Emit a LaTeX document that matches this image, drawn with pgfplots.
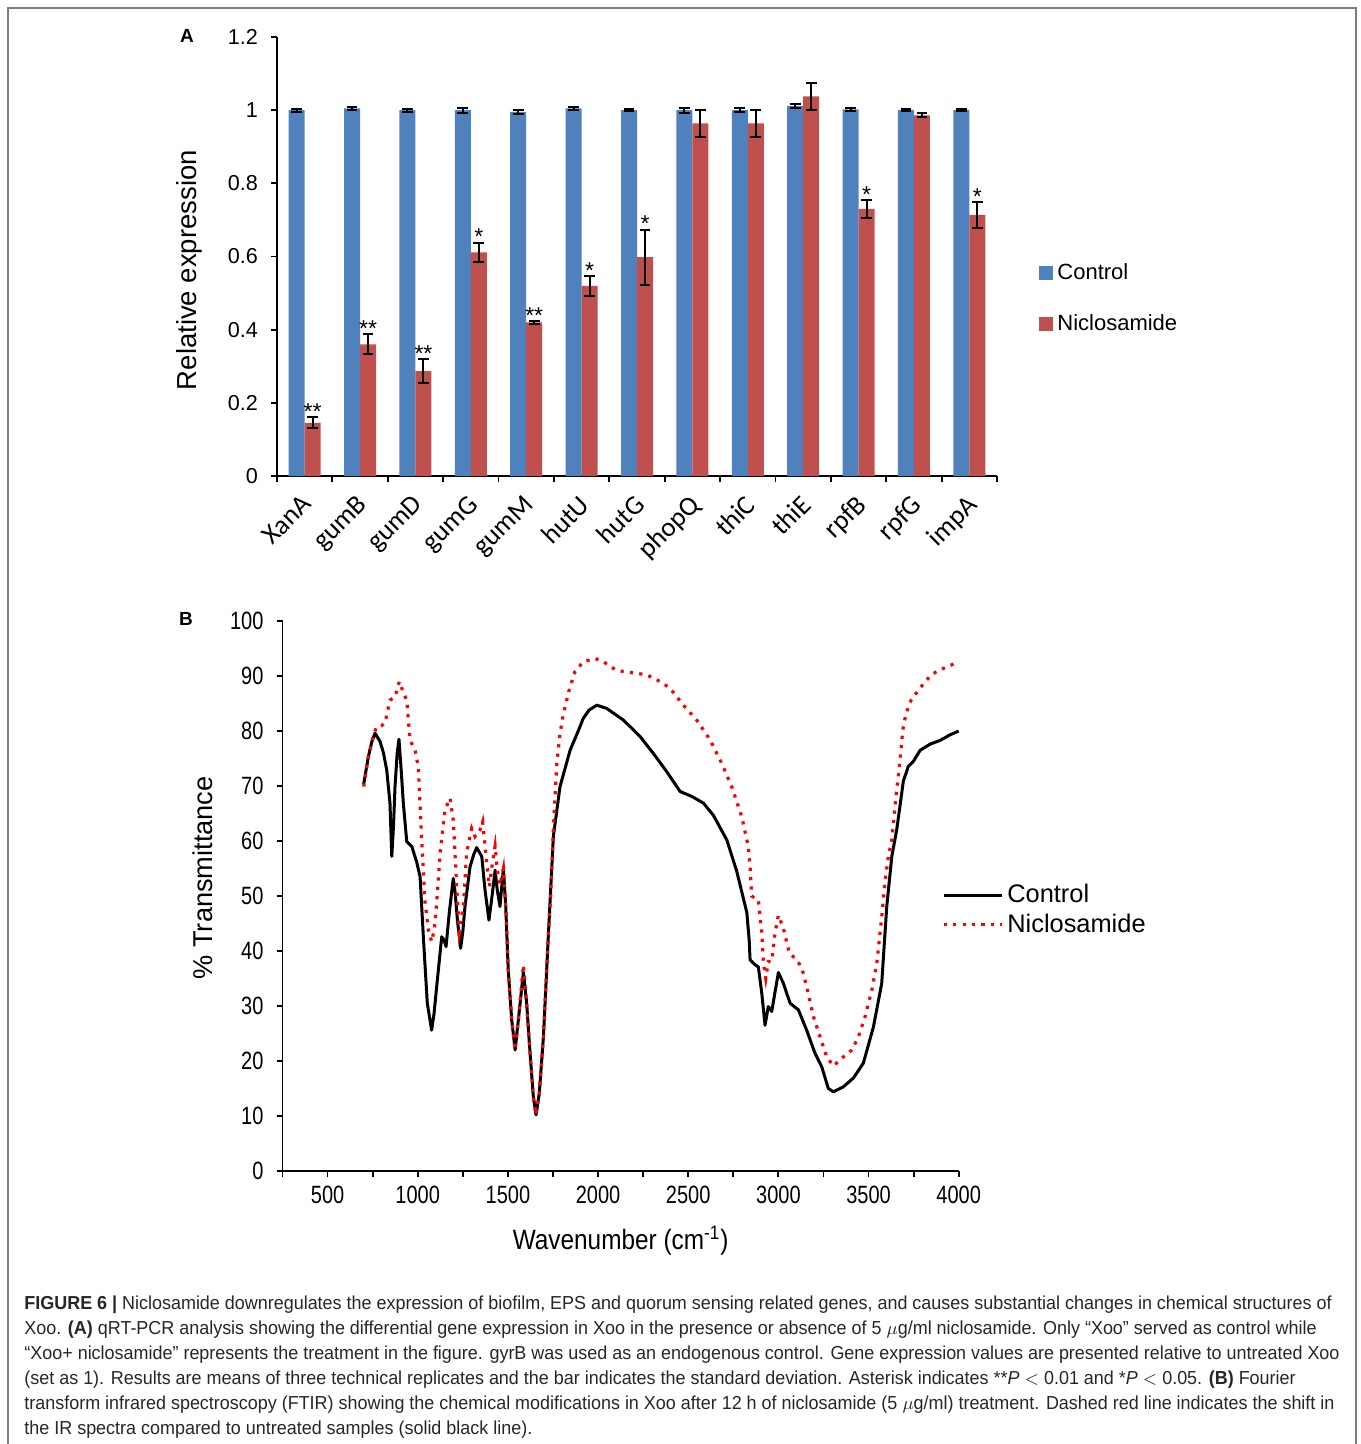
\documentclass[border=0pt]{standalone}
\usepackage{fontspec}
\setmainfont{Liberation Sans}
\newfontfamily\carlito{Carlito}
\newfontfamily\narrow[FakeStretch=0.8]{Liberation Sans}
\newfontfamily\semi[FakeStretch=0.87]{Liberation Sans}
\newfontfamily\capfont[FakeStretch=0.955]{Liberation Sans}
\usepackage{pgfplots}
\usepackage{pgfplotstable}
\pgfplotsset{compat=1.18}
\definecolor{cblue}{RGB}{79,129,189}
\definecolor{cred}{RGB}{192,80,77}
\definecolor{framegray}{RGB}{125,125,125}
\pgfplotstableread{
x c ce n ne
0 1.000 0.004 0.145 0.015
1 1.005 0.004 0.360 0.027
2 1.000 0.004 0.287 0.032
3 1.000 0.007 0.611 0.027
4 0.995 0.006 0.420 0.004
5 1.005 0.004 0.520 0.027
6 1.000 0.002 0.598 0.075
7 1.000 0.007 0.964 0.037
8 1.000 0.005 0.964 0.037
9 1.011 0.006 1.038 0.037
10 1.002 0.003 0.730 0.024
11 1.000 0.002 0.986 0.006
12 1.000 0.002 0.714 0.035
}\dataA
\begin{document}
\begin{tikzpicture}[x=0.5pt,y=-0.5pt]
\path[use as bounding box] (0,0) rectangle (1360,1444);
\draw[framegray, line width=1pt] (8,1444) -- (8,8) -- (1356,8) -- (1356,1444);
\node[font=\bfseries\fontsize{9.5}{11}\selectfont] at (187,36) {A};
\node[font=\bfseries\fontsize{9.5}{11}\selectfont] at (186,619) {B};
% ---------------- Panel A ----------------
\begin{axis}[
  at={(138.5pt,-238pt)}, anchor=south west,
  scale only axis, width=360pt, height=219.5pt,
  xmin=-0.5, xmax=12.5, ymin=0, ymax=1.2,
  axis lines*=left,
  axis line style={line width=0.9pt},
  tick align=outside,
  xtick={0,...,12},
  xticklabels={XanA,gumB,gumD,gumG,gumM,hutU,hutG,phopQ,thiC,thiE,rpfB,rpfG,impA},
  major x tick style={draw=none},
  minor xtick={-0.5,0.5,...,12.5},
  minor tick length=3pt,
  ytick={0,0.2,...,1.2},
  major tick length=3pt,
  tick style={line width=0.9pt, black},
  xticklabel style={font=\carlito\fontsize{13.5}{14}\selectfont, inner sep=0pt, xshift=-2pt, yshift=-5.5pt, rotate=45, anchor=north east},
  yticklabel style={font=\fontsize{10.8}{12}\selectfont, xshift=-3pt},
  /pgf/number format/assume math mode=true,
  ylabel={Relative expression},
  every axis y label/.style={at={(axis description cs:-0.121,0.469)}, rotate=90, anchor=center, font=\fontsize{13.75}{16}\selectfont},
  ybar, bar width=8pt,
  legend style={at={(1.050,0.405)}, anchor=west, draw=none, fill=none, font=\fontsize{11}{13}\selectfont, row sep=12pt, legend cell align=left},
  legend image code/.code={\fill[#1] (0pt,-3.5pt) rectangle (7pt,3.5pt);},
  clip=false,
]
\addlegendimage{fill=cblue, draw=none}
\addlegendentry{Control}
\addlegendimage{fill=cred, draw=none}
\addlegendentry{Niclosamide}
\addplot[fill=cblue, draw=none, bar shift=-4pt, forget plot,
  error bars/.cd, y dir=both, y explicit,
  error bar style={line width=1pt, black},
  error mark options={rotate=90, line width=1pt, mark size=2.7pt, black}]
  table[x=x, y=c, y error=ce]{\dataA};
\addplot[fill=cred, draw=none, bar shift=4pt, forget plot,
  error bars/.cd, y dir=both, y explicit,
  error bar style={line width=1pt, black},
  error mark options={rotate=90, line width=1pt, mark size=2.7pt, black}]
  table[x=x, y=n, y error=ne]{\dataA};
\begin{scope}[every node/.style={font=\fontsize{11.5}{12}\selectfont, anchor=base, xshift=4pt, inner sep=0pt}]
\node at (axis cs:0,0.154) {**};
\node at (axis cs:1,0.381) {**};
\node at (axis cs:2,0.313) {**};
\node at (axis cs:3,0.632) {*};
\node at (axis cs:4,0.418) {**};
\node at (axis cs:5,0.541) {*};
\node at (axis cs:6,0.667) {*};
\node at (axis cs:10,0.748) {*};
\node at (axis cs:12,0.743) {*};
\end{scope}
\end{axis}
% ---------------- Panel B ----------------
\begin{axis}[
  at={(141.25pt,-585.5pt)}, anchor=south west,
  scale only axis, width=338.1pt, height=275pt,
  xmin=250, xmax=4000, ymin=0, ymax=100,
  axis lines*=left,
  axis line style={line width=0.9pt},
  tick align=outside,
  xtick={500,1000,...,4000},
  minor xtick={250,750,...,3750},
  ytick={0,10,...,100},
  major tick length=3pt, minor tick length=3pt,
  tick style={line width=0.9pt, black},
  tick label style={font=\narrow\fontsize{12.5}{14}\selectfont},
  yticklabel style={xshift=-3pt},
  xticklabel style={yshift=-1pt},
  scaled ticks=false,
  /pgf/number format/1000 sep={},
  /pgf/number format/assume math mode=true,
  xlabel={Wavenumber (cm\textsuperscript{-1})},
  every axis x label/.style={at={(axis description cs:0.5,-0.127)}, anchor=center, font=\semi\fontsize{14}{16}\selectfont},
  ylabel={\% Transmittance},
  every axis y label/.style={at={(axis description cs:-0.1176,0.533)}, rotate=90, anchor=center, font=\fontsize{13.6}{16}\selectfont},
  legend style={at={(0.966,0.475)}, anchor=west, draw=none, fill=none, font=\fontsize{12.7}{14}\selectfont, row sep=0pt, legend cell align=left},
  legend image code/.code={\draw[#1] (0pt,0pt) -- (29pt,0pt);},
  clip=false,
]
\addplot[black, line width=1.5pt, line join=round] table {
700 70.3
726 75.3
745 78.0
763 79.6
791 78.1
810 76.0
828 72.9
846 66.9
856 57.2
866 63.0
874 69.9
886 76.0
896 78.5
908 73.0
920 66.9
939 59.9
967 59.0
994 56.2
1013 53.5
1031 42.6
1053 30.5
1077 25.6
1090 28.5
1105 33.5
1133 42.6
1145 42.0
1157 40.8
1175 47.0
1197 53.2
1208 50.5
1220 45.6
1238 40.5
1250 43.5
1262 48.1
1290 55.3
1310 57.5
1327 58.8
1355 57.2
1373 51.1
1395 45.6
1414 50.5
1429 54.7
1441 51.1
1456 48.1
1475 55.0
1488 48.1
1502 36.5
1521 27.5
1540 22.0
1558 27.5
1586 36.2
1604 30.5
1623 21.4
1641 13.5
1656 10.2
1674 14.1
1697 24.4
1724 42.6
1752 60.8
1789 69.9
1845 76.5
1900 80.8
1918 82.3
1950 83.8
1993 84.7
2048 84.1
2140 82.0
2233 79.0
2307 75.9
2381 72.6
2455 69.0
2520 68.1
2584 66.9
2639 64.7
2714 60.2
2769 54.5
2825 47.0
2838 42.0
2843 38.4
2871 37.5
2889 37.1
2908 32.3
2926 26.5
2944 29.9
2963 29.0
3000 36.1
3028 34.1
3065 30.5
3111 29.3
3157 25.6
3203 21.4
3240 19.0
3277 15.0
3305 14.4
3360 15.3
3416 16.9
3471 19.6
3527 26.2
3573 34.1
3601 48.1
3629 57.2
3656 62.0
3679 67.5
3693 70.9
3721 73.6
3749 74.5
3786 76.5
3841 77.6
3897 78.3
3952 79.3
4000 80.0
};
\addlegendentry{Control}
\addplot[red, line width=1.6pt, dash pattern=on 1.6pt off 3.1pt] table {
700 69.9
726 75.3
753 79.1
772 80.8
800 81.0
818 81.4
846 85.6
874 86.2
898 89.0
920 87.0
939 85.6
957 78.4
985 76.5
1003 73.5
1022 60.2
1040 49.0
1059 43.8
1077 41.7
1092 44.0
1105 48.7
1124 57.8
1151 65.6
1179 67.8
1197 63.8
1216 51.7
1231 43.5
1253 48.1
1271 57.8
1299 62.3
1318 60.8
1345 62.0
1360 63.5
1377 57.8
1397 51.7
1416 56.5
1429 59.1
1441 54.7
1456 52.0
1475 55.0
1488 48.1
1502 36.5
1521 27.5
1540 22.0
1558 27.5
1586 37.5
1604 30.5
1623 21.4
1641 13.5
1656 10.2
1674 14.1
1697 24.4
1724 42.6
1737 50.0
1752 62.0
1771 74.0
1789 79.5
1807 83.0
1840 87.5
1872 90.8
1918 92.6
1983 93.2
2029 92.6
2094 91.2
2140 90.8
2214 90.5
2270 90.2
2344 89.0
2399 87.8
2473 84.7
2547 82.0
2621 78.4
2686 74.1
2741 69.9
2797 64.4
2833 59.0
2843 55.3
2852 50.0
2870 49.6
2889 49.3
2908 43.2
2917 37.8
2930 35.0
2944 38.1
2963 38.1
2981 43.2
3000 46.5
3028 44.1
3061 39.6
3102 38.4
3130 36.9
3157 33.5
3194 28.1
3231 24.4
3268 20.8
3305 19.1
3351 20.5
3407 22.0
3444 24.4
3481 28.1
3518 32.9
3546 37.8
3573 46.2
3592 52.9
3610 57.2
3629 60.2
3652 68.1
3671 73.5
3690 80.2
3708 83.2
3736 85.6
3763 86.8
3800 88.4
3847 90.2
3893 91.1
3939 91.7
3985 92.4
4000 92.7
};
\addlegendentry{Niclosamide}
\end{axis}
% ---------------- Caption ----------------
\begin{scope}[every node/.style={anchor=base west, inner sep=0pt, font=\capfont\fontsize{9.4}{12.5}\selectfont, text=black!85}]
\node at (24,1309) {\textbf{FIGURE 6 |} Niclosamide downregulates the expression of biofilm, EPS and quorum sensing related genes, and causes substantial changes in chemical structures of};
\node at (24,1334) {Xoo. \textbf{(A)} qRT-PCR analysis showing the differential gene expression in Xoo in the presence or absence of 5 $\mu$g/ml niclosamide. Only “Xoo” served as control while};
\node at (24,1359) {“Xoo+ niclosamide” represents the treatment in the figure. gyrB was used as an endogenous control. Gene expression values are presented relative to untreated Xoo};
\node at (24,1384) {(set as 1). Results are means of three technical replicates and the bar indicates the standard deviation. Asterisk indicates **\textit{P} $<$ 0.01 and *\textit{P} $<$ 0.05. \textbf{(B)} Fourier};
\node at (24,1409) {transform infrared spectroscopy (FTIR) showing the chemical modifications in Xoo after 12 h of niclosamide (5 $\mu$g/ml) treatment. Dashed red line indicates the shift in};
\node at (24,1434) {the IR spectra compared to untreated samples (solid black line).};
\end{scope}
\end{tikzpicture}
\end{document}
